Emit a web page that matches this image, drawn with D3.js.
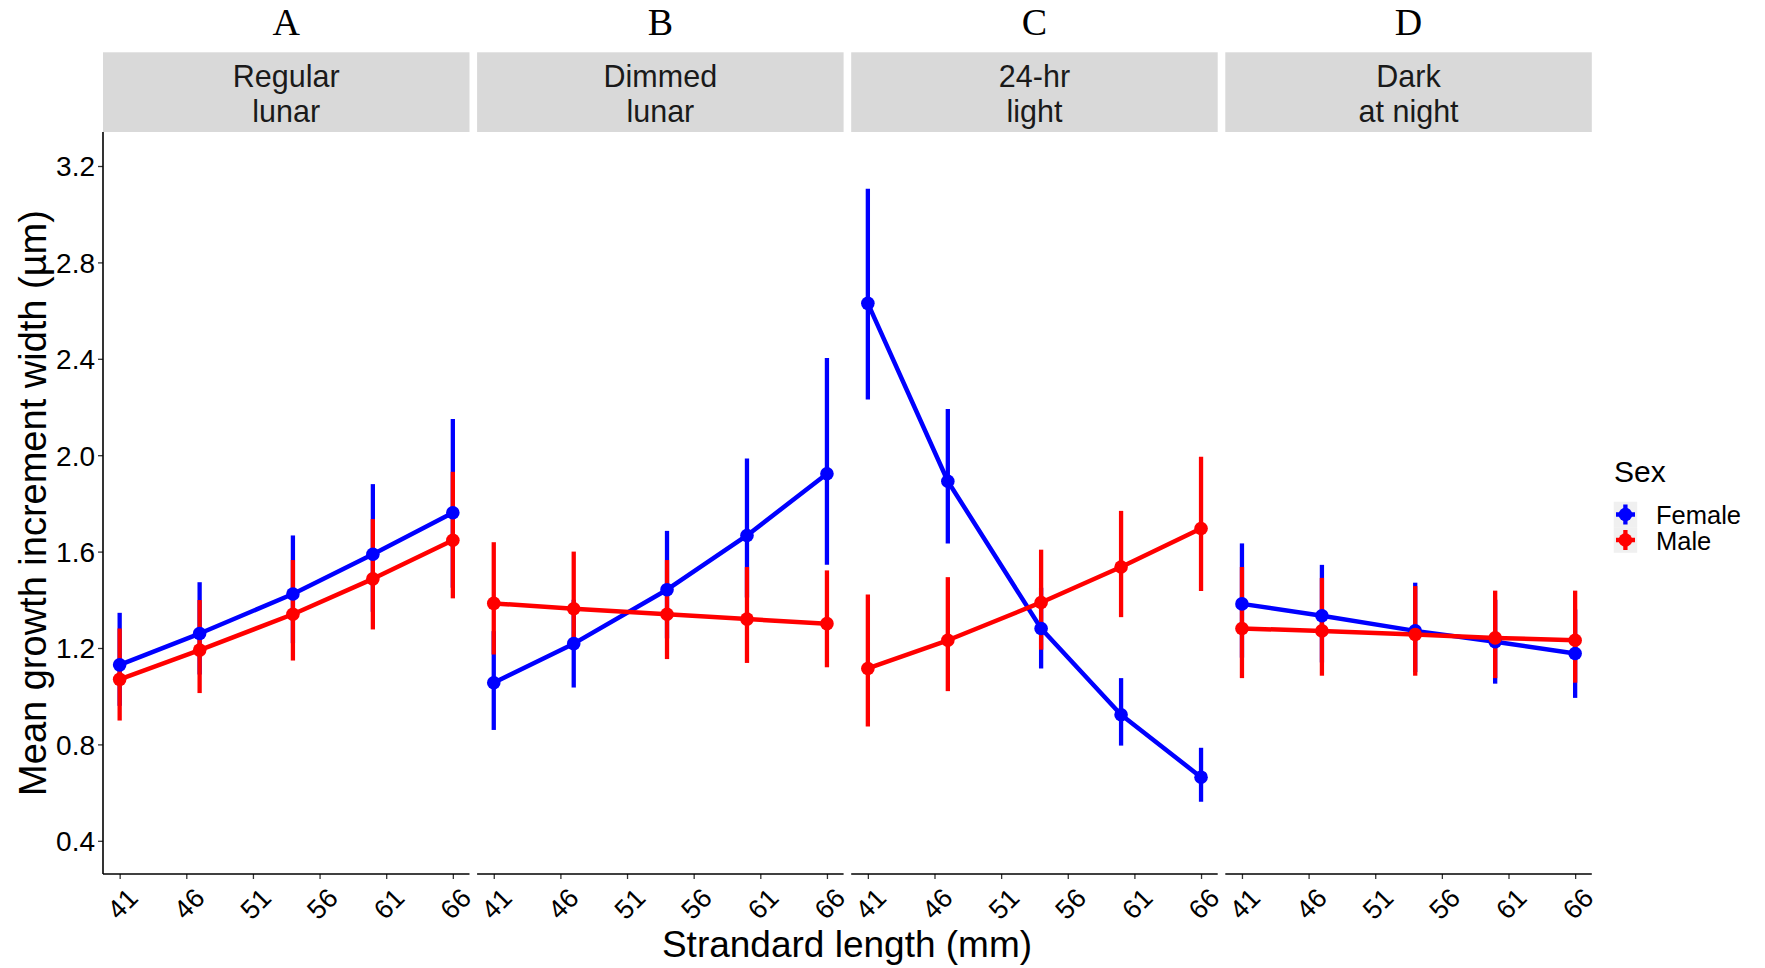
<!DOCTYPE html>
<html>
<head>
<meta charset="utf-8">
<script src="https://cdn.jsdelivr.net/npm/d3@7"></script>
<style>
  html, body { margin: 0; padding: 0; background: #fff; }
  svg { display: block; }
</style>
</head>
<body>
<svg id="chart" width="1765" height="968"></svg>
<script>
// ---------- data ----------
const panelLetters = ["A", "B", "C", "D"];
const panelNames = [["Regular", "lunar"], ["Dimmed", "lunar"], ["24-hr", "light"], ["Dark", "at night"]];
const lengths = [41, 47, 54, 60, 66];
const xTicks = [41, 46, 51, 56, 61, 66];
const yTicks = [0.4, 0.8, 1.2, 1.6, 2.0, 2.4, 2.8, 3.2];
const sexes = ["Female", "Male"];
const sexColors = ["#0000ff", "#ff0000"];

const femaleMean = [
  [1.130, 1.260, 1.424, 1.589, 1.761],
  [1.056, 1.218, 1.442, 1.667, 1.923],
  [2.630, 1.892, 1.281, 0.923, 0.664],
  [1.383, 1.334, 1.271, 1.226, 1.177]
];
const femaleLow = [
  [0.96, 1.09, 1.22, 1.35, 1.45],
  [0.860, 1.036, 1.24, 1.41, 1.545],
  [2.231, 1.634, 1.115, 0.795, 0.562],
  [1.16, 1.14, 1.10, 1.052, 0.993]
];
const femaleHigh = [
  [1.346, 1.473, 1.667, 1.880, 2.150],
  [1.27, 1.40, 1.686, 1.986, 2.403],
  [3.106, 2.192, 1.45, 1.075, 0.786],
  [1.634, 1.545, 1.471, 1.40, 1.36]
];
const maleMean = [
  [1.070, 1.191, 1.340, 1.487, 1.647],
  [1.385, 1.363, 1.340, 1.320, 1.301],
  [1.115, 1.232, 1.389, 1.536, 1.696],
  [1.281, 1.271, 1.256, 1.242, 1.232]
];
const maleLow = [
  [0.899, 1.013, 1.148, 1.277, 1.406],
  [1.173, 1.193, 1.154, 1.138, 1.120],
  [0.874, 1.021, 1.193, 1.328, 1.436],
  [1.075, 1.085, 1.085, 1.075, 1.056]
];
const maleHigh = [
  [1.281, 1.399, 1.565, 1.735, 1.931],
  [1.639, 1.600, 1.565, 1.536, 1.522],
  [1.422, 1.494, 1.608, 1.769, 1.994],
  [1.536, 1.491, 1.457, 1.438, 1.438]
];

// ---------- layout ----------
const svg = d3.select("#chart");
const panelLeft = 103, panelStep = 374.1, panelW = 366.5;
const panelTop = 132, panelBottom = 874;
const stripTop = 52.3;
const sans = "Arial, 'Liberation Sans', sans-serif";
const serif = "'Times New Roman', 'Liberation Serif', serif";

const y = d3.scaleLinear().domain([0.4, 3.2]).range([840.8, 166]);
const x = d3.scaleLinear().domain([39.75, 67.25]).range([0, panelW]);

const seriesFor = (p) => [
  { sex: 0, mean: femaleMean[p], low: femaleLow[p], high: femaleHigh[p] },
  { sex: 1, mean: maleMean[p], low: maleLow[p], high: maleHigh[p] }
];

panelLetters.forEach((letter, p) => {
  const g = svg.append("g").attr("transform", `translate(${panelLeft + p * panelStep},0)`);

  // panel letter
  g.append("text").attr("x", panelW / 2).attr("y", 35)
    .attr("text-anchor", "middle").attr("font-family", serif).attr("font-size", 38)
    .attr("fill", "#000").text(letter);

  // strip
  g.append("rect").attr("x", 0).attr("y", stripTop).attr("width", panelW)
    .attr("height", panelTop - stripTop).attr("fill", "#d9d9d9");
  panelNames[p].forEach((line, i) => {
    g.append("text").attr("x", panelW / 2).attr("y", 87.3 + i * 35)
      .attr("text-anchor", "middle").attr("font-family", sans).attr("font-size", 30.5)
      .attr("fill", "#1a1a1a").text(line);
  });

  // x axis
  const xAxis = d3.axisBottom(x).tickValues(xTicks).tickSize(5).tickFormat(d3.format("d"));
  const ax = g.append("g").attr("transform", `translate(0,${panelBottom})`).call(xAxis);
  ax.select(".domain").remove();
  ax.selectAll(".tick line").attr("stroke", "#333").attr("stroke-width", 1.3);
  ax.selectAll(".tick text").remove();
  ax.selectAll(".tick").append("text")
    .attr("transform", "translate(2.5,30) rotate(-45)")
    .attr("text-anchor", "middle").attr("dominant-baseline", "central")
    .attr("font-family", sans).attr("font-size", 27).attr("fill", "#000")
    .text(d => d);
  g.append("line").attr("x1", 0).attr("x2", panelW)
    .attr("y1", panelBottom).attr("y2", panelBottom)
    .attr("stroke", "#000").attr("stroke-width", 1.6);

  // y axis only on first panel
  if (p === 0) {
    const yAxis = d3.axisLeft(y).tickValues(yTicks).tickSize(5).tickFormat(d3.format(".1f"));
    const ay = g.append("g").call(yAxis);
    ay.select(".domain").remove();
    ay.selectAll(".tick line").attr("stroke", "#333").attr("stroke-width", 1.3);
    ay.selectAll(".tick text").attr("x", -8).attr("font-family", sans).attr("font-size", 28)
      .attr("fill", "#000").attr("dy", "0.35em");
    g.append("line").attr("x1", 0).attr("x2", 0).attr("y1", panelTop).attr("y2", panelBottom)
      .attr("stroke", "#000").attr("stroke-width", 1.6);
  }

  const series = seriesFor(p);
  const line = d3.line().x((d, i) => x(lengths[i])).y(d => y(d));

  // lines
  series.forEach(s => {
    g.append("path").datum(s.mean).attr("d", line)
      .attr("fill", "none").attr("stroke", sexColors[s.sex]).attr("stroke-width", 4.5)
      .attr("stroke-linejoin", "round");
  });
  // error bars
  series.forEach(s => {
    g.selectAll(null).data(lengths).enter().append("line")
      .attr("x1", d => x(d)).attr("x2", d => x(d))
      .attr("y1", (d, i) => y(s.low[i])).attr("y2", (d, i) => y(s.high[i]))
      .attr("stroke", sexColors[s.sex]).attr("stroke-width", 4.3);
  });
  // points
  series.forEach(s => {
    g.selectAll(null).data(lengths).enter().append("circle")
      .attr("cx", d => x(d)).attr("cy", (d, i) => y(s.mean[i])).attr("r", 6.8)
      .attr("fill", sexColors[s.sex]);
  });
});

// axis titles
svg.append("text")
  .attr("transform", `translate(46,503) rotate(-90)`)
  .attr("text-anchor", "middle").attr("font-family", sans).attr("font-size", 38)
  .attr("fill", "#000").text("Mean growth increment width (µm)");
svg.append("text").attr("x", 847).attr("y", 957)
  .attr("text-anchor", "middle").attr("font-family", sans).attr("font-size", 37)
  .attr("fill", "#000").text("Strandard length (mm)");

// legend
const lg = svg.append("g");
lg.append("text").attr("x", 1614).attr("y", 482).attr("font-family", sans)
  .attr("font-size", 30).attr("fill", "#000").text("Sex");
sexes.forEach((s, i) => {
  const cy = 514.5 + i * 25.5;
  lg.append("rect").attr("x", 1613.7).attr("y", cy - 12.75).attr("width", 23.5).attr("height", 25.5)
    .attr("fill", "#f0f0f0");
  lg.append("line").attr("x1", 1616).attr("x2", 1635).attr("y1", cy).attr("y2", cy)
    .attr("stroke", sexColors[i]).attr("stroke-width", 4.5);
  lg.append("line").attr("x1", 1625.4).attr("x2", 1625.4).attr("y1", cy - 10).attr("y2", cy + 10)
    .attr("stroke", sexColors[i]).attr("stroke-width", 4.3);
  lg.append("circle").attr("cx", 1625.4).attr("cy", cy).attr("r", 6.8).attr("fill", sexColors[i]);
  lg.append("text").attr("x", 1656).attr("y", cy + 9.5).attr("font-family", sans)
    .attr("font-size", 25.5).attr("fill", "#000").text(s);
});
</script>
</body>
</html>
